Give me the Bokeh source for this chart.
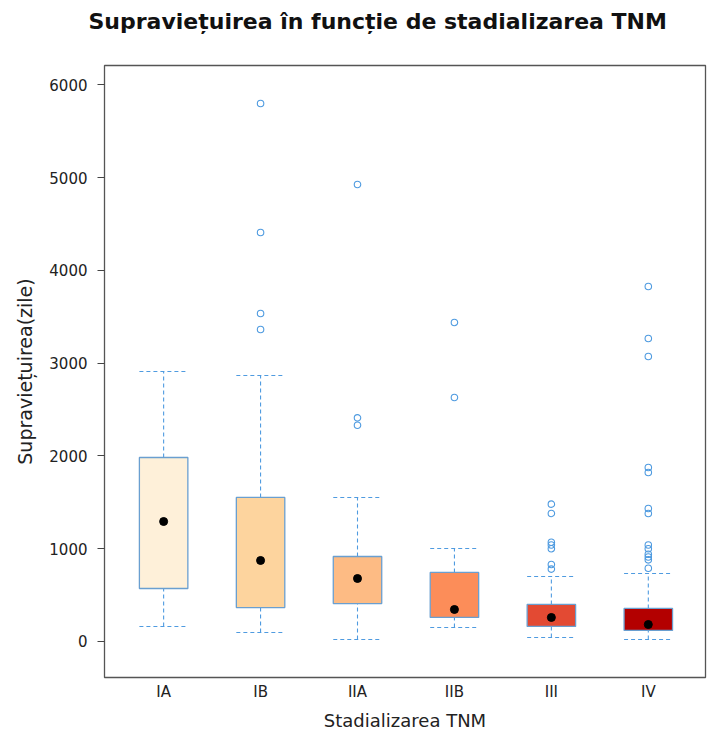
from bokeh.plotting import figure
from bokeh.models import Range1d, FixedTicker, ColumnDataSource, Title
from bokeh.embed import file_html
from bokeh.resources import INLINE

# ---- data ----
stages = ["IA", "IB", "IIA", "IIB", "III", "IV"]
q1 = [571, 366, 409, 259, 162, 119]
median = [1293, 873, 679, 345, 259, 183]
q3 = [1983, 1552, 916, 744, 399, 356]
lower_whisker = [162, 97, 22, 151, 43, 22]
upper_whisker = [2909, 2866, 1552, 1002, 700, 733]
outliers_IA = []
outliers_IB = [5797, 4407, 3534, 3362]
outliers_IIA = [4925, 2410, 2330]
outliers_IIB = [3438, 2629]
outliers_III = [1480, 1380, 1070, 1040, 1000, 830, 780]
outliers_IV = [3825, 3265, 3071, 1875, 1821, 1433, 1379, 1040, 1000,
               940, 910, 880, 790]
fill_colors = ["#fef0d9", "#fdd49e", "#fdbb84", "#fc8d59", "#e34a33", "#b30000"]
y_ticks = [0, 1000, 2000, 3000, 4000, 5000, 6000]
title_text = "Supraviețuirea în funcție de stadializarea TNM"

outliers = [outliers_IA, outliers_IB, outliers_IIA, outliers_IIB,
            outliers_III, outliers_IV]

xpos = list(range(1, len(stages) + 1))
BLUE = "#4f9be0"

p = figure(width=707, height=733, output_backend="svg", toolbar_location=None,
           x_range=Range1d(0.39, 6.59), y_range=Range1d(-388, 6207),
           min_border_left=104, min_border_top=65, min_border_bottom=56,
           min_border_right=2)

# spacer between frame and title, then the title itself (outermost)
p.add_layout(Title(text=" ", text_font_size="10px", standoff=14), "above")
p.add_layout(Title(text=title_text, text_font="DejaVu Sans",
                   text_font_size="22px", text_font_style="bold",
                   align="left", offset=-16, vertical_align="bottom",
                   text_color="#111111", standoff=10), "above")

src = ColumnDataSource(dict(x=xpos, q1=q1, q3=q3, med=median,
                            lo=lower_whisker, hi=upper_whisker,
                            fill=fill_colors))

# whiskers (dashed)
p.segment(x0="x", y0="q3", x1="x", y1="hi", source=src, line_color=BLUE,
          line_dash="4 3", line_width=1.1)
p.segment(x0="x", y0="lo", x1="x", y1="q1", source=src, line_color=BLUE,
          line_dash="4 3", line_width=1.1)
src_caps = ColumnDataSource(dict(
    x0=[x - 0.25 for x in xpos], x1=[x + 0.25 for x in xpos],
    lo=lower_whisker, hi=upper_whisker))
p.segment(x0="x0", y0="hi", x1="x1", y1="hi", source=src_caps,
          line_color=BLUE, line_dash="4 3", line_width=1.1)
p.segment(x0="x0", y0="lo", x1="x1", y1="lo", source=src_caps,
          line_color=BLUE, line_dash="4 3", line_width=1.1)

# boxes
p.vbar(x="x", bottom="q1", top="q3", width=0.5, source=src,
       fill_color="fill", line_color="#6a9fd0", line_width=1.3)

# medians
p.scatter(x="x", y="med", source=src, size=8, color="black")

# outliers
ox, oy = [], []
for i, vals in enumerate(outliers):
    for v in vals:
        ox.append(xpos[i])
        oy.append(v)
p.scatter(x=ox, y=oy, size=6.5, fill_color=None, line_color=BLUE,
          line_width=1.1)

# axes
p.xgrid.visible = False
p.ygrid.visible = False
p.outline_line_color = "#555555"
p.outline_line_width = 1.3

p.xaxis.ticker = FixedTicker(ticks=xpos)
p.xaxis.major_label_overrides = {x: s for x, s in zip(xpos, stages)}
p.yaxis.ticker = FixedTicker(ticks=y_ticks)

for ax in (p.xaxis[0], p.yaxis[0]):
    ax.axis_line_color = None
    ax.major_label_text_font = "DejaVu Sans"
    ax.major_label_text_font_size = "15px"
    ax.major_label_text_color = "#222222"
    ax.minor_tick_line_color = None
    ax.axis_label_text_font = "DejaVu Sans"
    ax.axis_label_text_font_style = "normal"
    ax.axis_label_text_color = "#222222"

p.xaxis.major_tick_line_color = None
p.xaxis.major_tick_out = 0
p.xaxis.major_tick_in = 0
p.xaxis.major_label_standoff = 5
p.xaxis.axis_label = "Stadializarea TNM"
p.xaxis.axis_label_text_font_size = "18px"
p.xaxis.axis_label_standoff = 6

p.yaxis.major_tick_in = 0
p.yaxis.major_tick_out = 7
p.yaxis.major_tick_line_color = "#444444"
p.yaxis.major_label_standoff = 10
p.yaxis.axis_label = "Supraviețuirea(zile)"
p.yaxis.axis_label_text_font_size = "19px"
p.yaxis.axis_label_standoff = 10

open("out.html", "w").write(file_html(p, INLINE))
